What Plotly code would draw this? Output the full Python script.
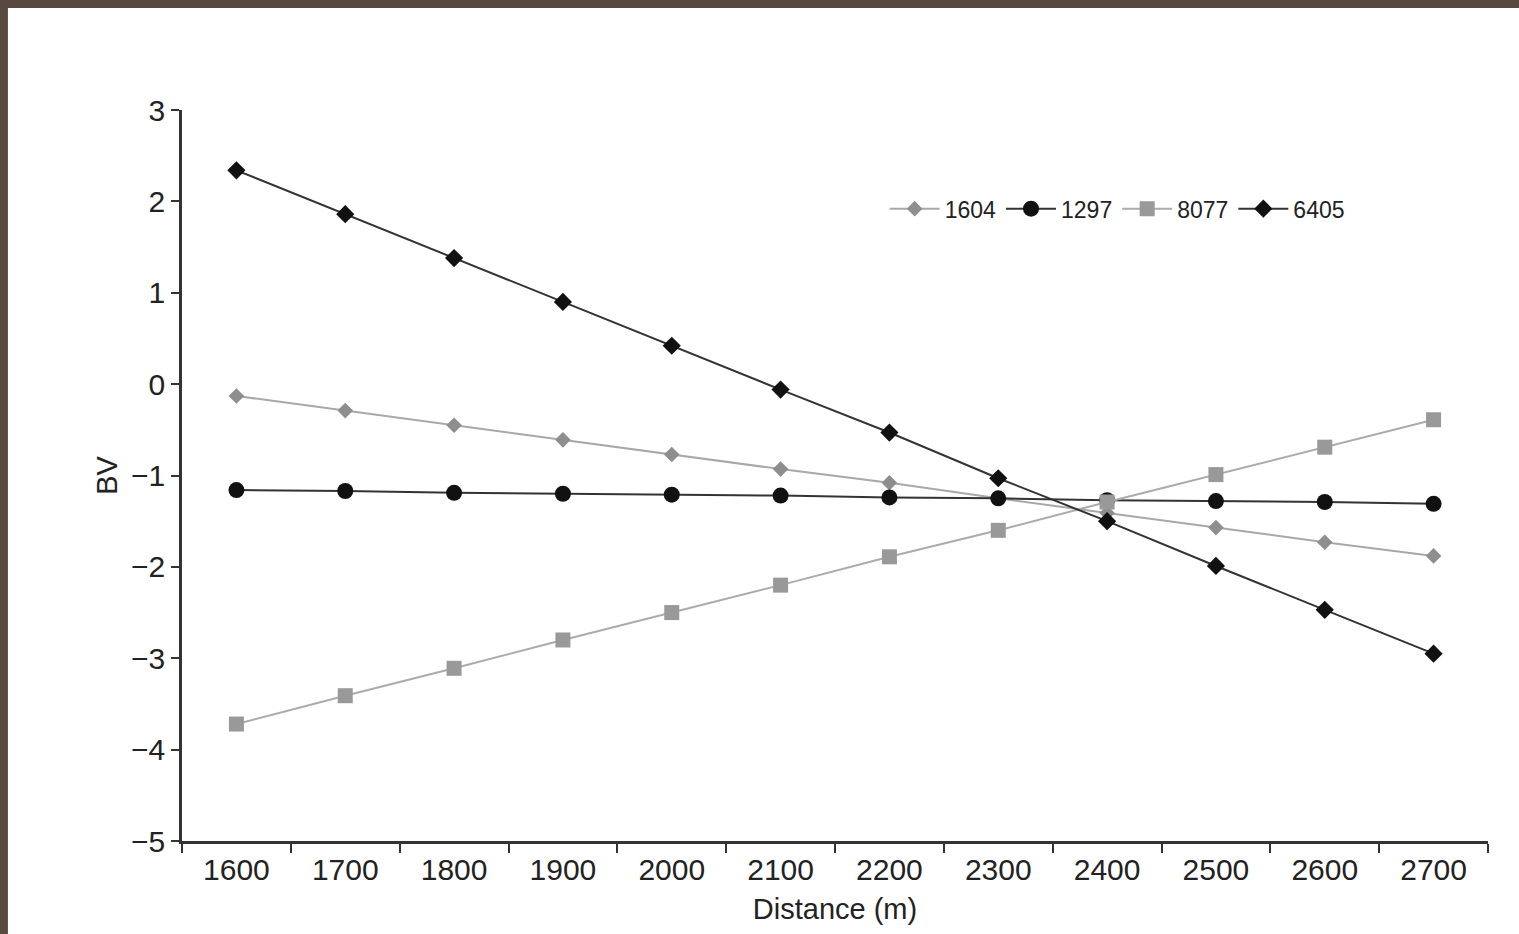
import plotly.graph_objects as go

distance = ["1600", "1700", "1800", "1900", "2000", "2100", "2200", "2300", "2400", "2500", "2600", "2700"]
s1604 = [-0.13, -0.29, -0.45, -0.61, -0.77, -0.93, -1.08, -1.25, -1.41, -1.57, -1.73, -1.88]
s1297 = [-1.16, -1.17, -1.19, -1.20, -1.21, -1.22, -1.24, -1.25, -1.27, -1.28, -1.29, -1.31]
s8077 = [-3.72, -3.41, -3.11, -2.80, -2.50, -2.20, -1.89, -1.60, -1.29, -0.99, -0.69, -0.39]
s6405 = [2.34, 1.86, 1.38, 0.90, 0.42, -0.06, -0.53, -1.03, -1.50, -1.99, -2.47, -2.95]

y_ticks = [-5, -4, -3, -2, -1, 0, 1, 2, 3]

fig = go.Figure()
fig.add_trace(go.Scatter(x=distance, y=s1604, name="1604", mode="lines+markers",
                         line=dict(color="#a8a8a8", width=2),
                         marker=dict(symbol="diamond", size=12, color="#8e8e8e")))
fig.add_trace(go.Scatter(x=distance, y=s1297, name="1297", mode="lines+markers",
                         line=dict(color="#333333", width=2),
                         marker=dict(symbol="circle", size=16, color="#111111")))
fig.add_trace(go.Scatter(x=distance, y=s8077, name="8077", mode="lines+markers",
                         line=dict(color="#ababab", width=2),
                         marker=dict(symbol="square", size=15, color="#999999")))
fig.add_trace(go.Scatter(x=distance, y=s6405, name="6405", mode="lines+markers",
                         line=dict(color="#333333", width=2),
                         marker=dict(symbol="diamond", size=14, color="#111111")))

font = "Liberation Sans, Arial, sans-serif"
brown = "#574840"
fig.update_layout(
    width=1519, height=934,
    margin=dict(l=182, r=31, t=110, b=93),
    paper_bgcolor="white", plot_bgcolor="white",
    font=dict(family=font, color="#222222"),
    showlegend=True,
    legend=dict(orientation="h", x=0.538, y=0.865, xanchor="left", yanchor="middle",
                font=dict(size=23, color="#222222"), bgcolor="rgba(0,0,0,0)",
                itemwidth=50, tracegroupgap=0),
    xaxis=dict(type="category", title=dict(text="Distance (m)", font=dict(size=29), standoff=14),
               tickfont=dict(size=30), showgrid=False, showline=True, linecolor="#333333",
               linewidth=2.5, ticks="outside", tickson="boundaries", ticklen=9,
               tickcolor="#333333", tickwidth=2, range=[-0.5, 11.5], zeroline=False),
    yaxis=dict(title=dict(text="BV", font=dict(size=29), standoff=5),
               tickfont=dict(size=30), showgrid=False, showline=True, linecolor="#333333",
               linewidth=2.5, ticks="outside", ticklen=8, tickcolor="#333333", tickwidth=2,
               range=[-5, 3], tickvals=y_ticks, zeroline=False),
    shapes=[
        dict(type="rect", xref="paper", yref="paper", x0=-0.15, x1=1.03, y0=1.1395, y1=1.2,
             fillcolor=brown, line=dict(width=0), layer="above"),
        dict(type="rect", xref="paper", yref="paper", x0=-0.15, x1=-0.1333, y0=-0.2, y1=1.2,
             fillcolor=brown, line=dict(width=0), layer="above"),
    ],
)

fig.write_html("out.html", config={"displayModeBar": False},
               post_script="document.body.style.margin='0';document.body.style.overflow='hidden';")
